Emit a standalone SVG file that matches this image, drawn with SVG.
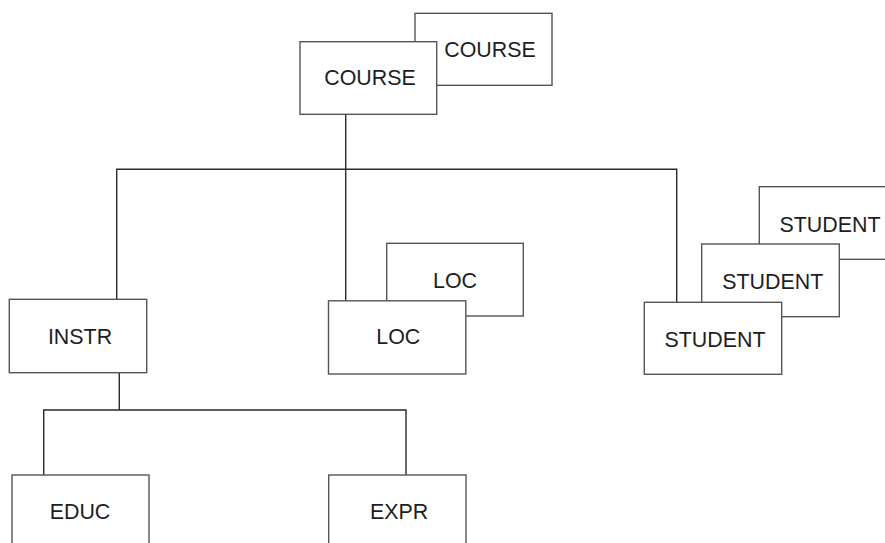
<svg xmlns="http://www.w3.org/2000/svg" width="885" height="543" viewBox="0 0 885 543">
<style>
.box{fill:#fff;stroke:#555;stroke-width:1.4}
.lbl{font-family:"Liberation Sans",Arial,sans-serif;font-size:21.4px;fill:#1e1e1e;text-anchor:middle}
.con{fill:none;stroke:#2a2a2a;stroke-width:1.4}
</style>
<rect width="885" height="543" fill="#fff"/>
<g id="connectors">
<path class="con" d="M345.7 114.3 V301"/>
<path class="con" d="M116.7 299.3 V169.3 H676.7 V302"/>
<path class="con" d="M119.3 372.7 V410"/>
<path class="con" d="M43.7 475 V410 H406 V475"/>
</g>
<g id="course-back"><rect class="box" x="415" y="13.3" width="137" height="72"/><text class="lbl" x="490" y="57">COURSE</text></g>
<g id="course"><rect class="box" x="300" y="41.7" width="136.7" height="72.6"/><text class="lbl" x="370" y="85">COURSE</text></g>
<g id="instr"><rect class="box" x="9.3" y="299.3" width="137.4" height="73.4"/><text class="lbl" x="80" y="344">INSTR</text></g>
<g id="loc-back"><rect class="box" x="386.7" y="243.3" width="136.6" height="72.7"/><text class="lbl" x="455" y="287.7">LOC</text></g>
<g id="loc"><rect class="box" x="328.5" y="300.8" width="137.3" height="73.2"/><text class="lbl" x="398.3" y="344.3">LOC</text></g>
<g id="student-back2"><rect class="box" x="759.3" y="186.7" width="140" height="72.6"/><text class="lbl" x="830" y="231.7">STUDENT</text></g>
<g id="student-back1"><rect class="box" x="701.7" y="244" width="137.6" height="72.7"/><text class="lbl" x="772.7" y="289">STUDENT</text></g>
<g id="student"><rect class="box" x="644.3" y="302.3" width="137.4" height="72"/><text class="lbl" x="715" y="346.7">STUDENT</text></g>
<g id="educ"><rect class="box" x="12" y="475" width="137" height="80"/><text class="lbl" x="80" y="519.3">EDUC</text></g>
<g id="expr"><rect class="box" x="328.7" y="475" width="137.3" height="80"/><text class="lbl" x="399" y="519">EXPR</text></g>
</svg>
